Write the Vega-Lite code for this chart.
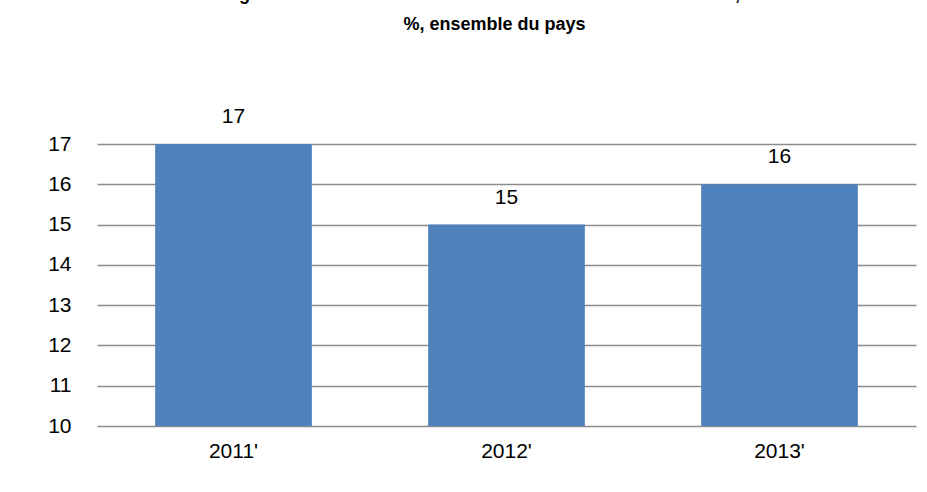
{
  "$schema": "https://vega.github.io/schema/vega-lite/v6.json",
  "width": 819,
  "height": 282,
  "autosize": "none",
  "padding": {"left": 97, "top": 144, "right": 11, "bottom": 66},
  "background": "white",
  "config": {
    "font": "Liberation Sans",
    "view": {"stroke": null}
  },
  "title": {
    "text": ["Figure 15: Evolution du score de consommation alimentaire, en", "%, ensemble du pays"],
    "fontSize": 18,
    "fontWeight": "bold",
    "font": "Liberation Sans",
    "color": "black",
    "anchor": "middle",
    "dx": -12,
    "lineHeight": 30,
    "offset": 72
  },
  "data": {
    "values": [
      {"annee": "2011'", "score": 17},
      {"annee": "2012'", "score": 15},
      {"annee": "2013'", "score": 16}
    ]
  },
  "encoding": {
    "x": {
      "field": "annee",
      "type": "nominal",
      "sort": null,
      "scale": {"paddingInner": 0.426, "paddingOuter": 0.213},
      "axis": {
        "title": null,
        "labelAngle": 0,
        "labelFontSize": 21,
        "labelColor": "black",
        "labelPadding": 14,
        "ticks": false,
        "domain": false
      }
    },
    "y": {
      "field": "score",
      "type": "quantitative",
      "scale": {"domain": [10, 17], "zero": false, "nice": false},
      "axis": {
        "title": null,
        "values": [10, 11, 12, 13, 14, 15, 16, 17],
        "labelFontSize": 21,
        "labelColor": "black",
        "labelPadding": 26,
        "ticks": false,
        "domain": false,
        "gridColor": "#8c8c8c",
        "gridWidth": 1.5,
        "gridOpacity": 1
      }
    }
  },
  "layer": [
    {
      "mark": {"type": "bar", "color": "#4F81BD", "clip": true}
    },
    {
      "mark": {"type": "text", "fontSize": 21, "color": "black", "baseline": "middle", "dy": -27, "clip": false},
      "encoding": {"text": {"field": "score", "type": "quantitative"}}
    }
  ]
}
